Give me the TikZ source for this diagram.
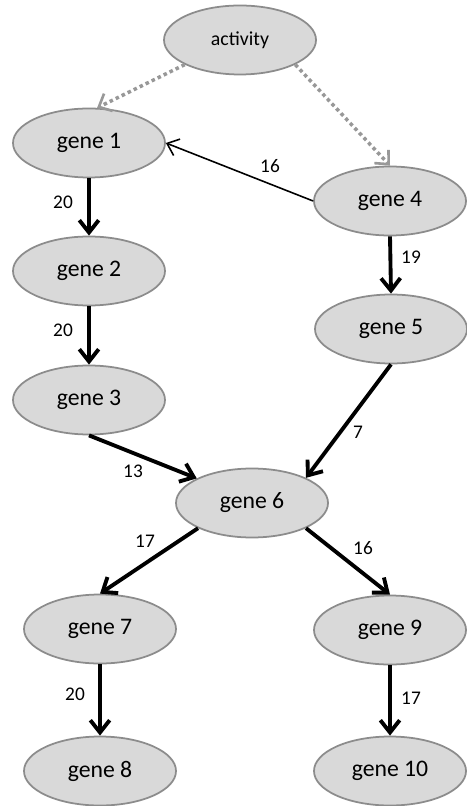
\documentclass[tikz,border=0pt]{standalone}
\usepackage{fontspec}
\setmainfont{Carlito}
\usetikzlibrary{shapes.geometric,arrows.meta}
\definecolor{genefill}{HTML}{D9D9D9}
\definecolor{genedraw}{HTML}{8C8C8C}
\definecolor{actline}{HTML}{989898}
\begin{document}
\begin{tikzpicture}[
    gene/.style={ellipse, draw=genedraw, fill=genefill, line width=1pt,
        minimum width=3.04cm, minimum height=1.38cm, inner sep=0pt,
        font=\fontsize{13.5}{16}\selectfont},
    lbl/.style={inner sep=0pt, font=\fontsize{11}{13}\selectfont},
    strong/.style={line width=2.2pt, -{Straight Barb[length=7pt, width=11pt]}},
    weak/.style={line width=0.9pt, -{Straight Barb[length=6pt, width=10pt]}},
    induce/.style={actline, line width=2pt, dash pattern=on 2pt off 1.8pt,
        -{Straight Barb[length=6pt, width=11pt, line width=1.5pt]}}
]
    \useasboundingbox (0, 0) rectangle (9.32, -16.12);
    % genes
    \node[gene, font=\fontsize{11.3}{13}\selectfont] (activity) at (4.8, -0.8) {activity};
    \node[gene] (gene1) at (1.78, -2.86) {gene 1};
    \node[gene] (gene2) at (1.78, -5.42) {gene 2};
    \node[gene] (gene3) at (1.78, -8.0) {gene 3};
    \node[gene] (gene4) at (7.8, -4.02) {gene 4};
    \node[gene] (gene5) at (7.82, -6.58) {gene 5};
    \node[gene] (gene6) at (5.04, -10.06) {gene 6};
    \node[gene] (gene7) at (2.0, -12.58) {gene 7};
    \node[gene] (gene8) at (2.0, -15.42) {gene 8};
    \node[gene] (gene9) at (7.8, -12.6) {gene 9};
    \node[gene] (gene10) at (7.8, -15.42) {gene 10};
    % links
    \draw[induce] (activity.-156) -- (gene1.77);
    \draw[induce] (activity.-24) -- (gene4.north);
    \draw[weak] (gene4.west) -- (gene1.east);
    \draw[strong] (gene1.south) -- (gene2.north);
    \draw[strong] (gene2.south) -- (gene3.north);
    \draw[strong] (gene4.south) -- (gene5.north);
    \draw[strong] (gene3.south) -- (gene6.156);
    \draw[strong] (gene5.south) -- (gene6.25);
    \draw[strong] (gene6.-155) -- (gene7.north);
    \draw[strong] (gene6.-25) -- (gene9.north);
    \draw[strong] (gene7.south) -- (gene8.north);
    \draw[strong] (gene9.south) -- (gene10.north);
    % weights
    \node[lbl] (l41) at (5.4, -3.32) {16};
    \node[lbl] (l12) at (1.26, -4.04) {20};
    \node[lbl] (l23) at (1.26, -6.6) {20};
    \node[lbl] (l45) at (8.22, -5.14) {19};
    \node[lbl] (l36) at (2.66, -9.42) {13};
    \node[lbl] (l56) at (7.16, -8.64) {7};
    \node[lbl] (l67) at (2.9, -10.82) {17};
    \node[lbl] (l69) at (7.26, -10.96) {16};
    \node[lbl] (l78) at (1.5, -13.88) {20};
    \node[lbl] (l910) at (8.22, -13.96) {17};
\end{tikzpicture}
\end{document}
